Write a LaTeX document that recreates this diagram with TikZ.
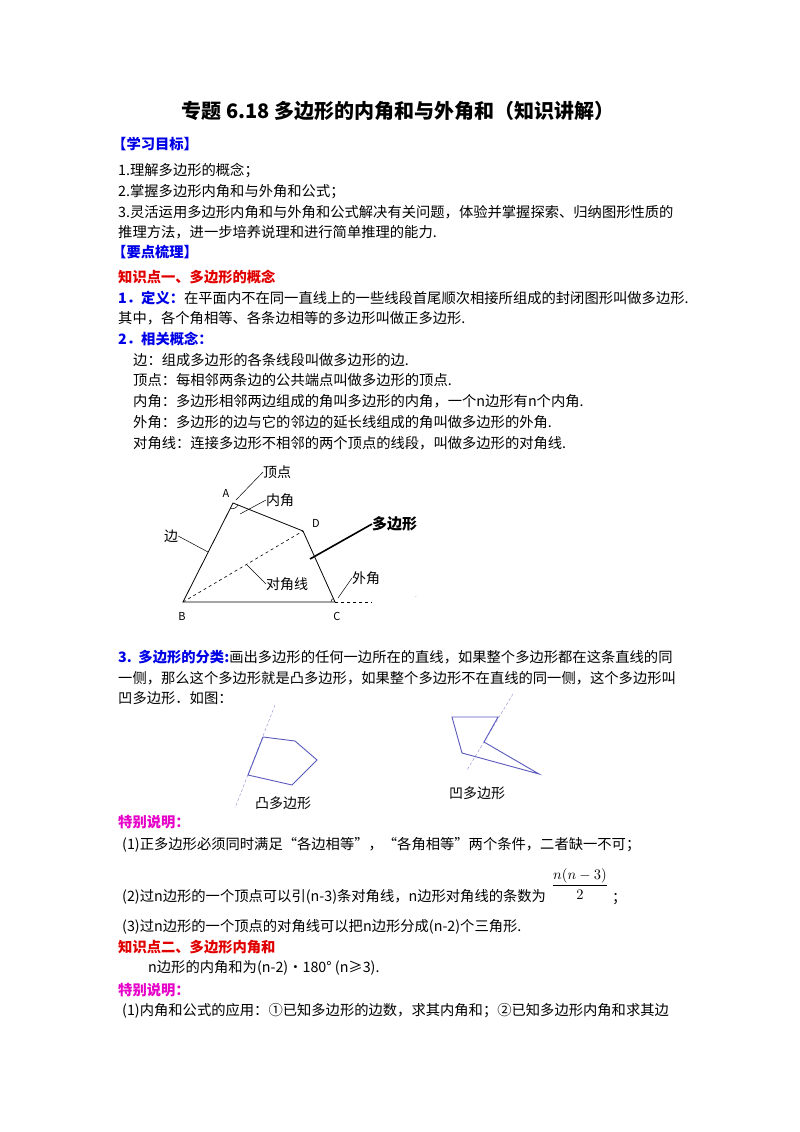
\documentclass[tikz,border=0pt]{standalone}
\usepackage{fontspec}
\setmainfont{Noto Sans CJK SC}
\usetikzlibrary{calc}
\definecolor{kb}{RGB}{0,0,230}
\definecolor{kr}{RGB}{225,0,0}
\definecolor{km}{RGB}{230,0,200}
\definecolor{pb}{RGB}{90,90,190}
\begin{document}
\begin{tikzpicture}[x=1pt,y=-1pt,
 t/.style={anchor=west,inner sep=0pt,font=\fontsize{14.3}{16}\selectfont},
 hb/.style={t,text=kb,font=\fontsize{14.3}{16}\selectfont\bfseries},
 hr/.style={t,text=kr,font=\fontsize{14.3}{16}\selectfont\bfseries},
 hm/.style={t,text=km,font=\fontsize{14.3}{16}\selectfont\bfseries},
 lab/.style={inner sep=0pt,font=\fontsize{14}{16}\selectfont},
 poly/.style={draw=pb,line width=0.9pt},
 aux/.style={draw=pb!60,densely dashed,line width=0.5pt}]
\useasboundingbox (0,0) rectangle (800,1132);
\fill[white] (0,0) rectangle (800,1132);
\node[inner sep=0pt,font=\fontsize{20}{22}\selectfont\bfseries] (title) at (398,111) {专题\ 6.18\ 多边形的内角和与外角和（知识讲解）};
\node[hb] (h1) at (112,144) {【学习目标】};
\node[t] (l1) at (118,171) {1.理解多边形的概念；};
\node[t] (l2) at (118,192) {2.掌握多边形内角和与外角和公式；};
\node[t] (l3) at (118,212) {3.灵活运用多边形内角和与外角和公式解决有关问题，体验并掌握探索、归纳图形性质的};
\node[t] (l4) at (118,232) {推理方法，进一步培养说理和进行简单推理的能力.};
\node[hb] (h2) at (112,252) {【要点梳理】};
\node[hr] (k1) at (118,277) {知识点一、多边形的概念};
\node[t] (d1) at (118,298) {\textcolor{kb}{\bfseries 1．定义：}在平面内不在同一直线上的一些线段首尾顺次相接所组成的封闭图形叫做多边形.};
\node[t] (d2) at (118,318) {其中，各个角相等、各条边相等的多边形叫做正多边形.};
\node[hb] (d3) at (118,339) {2．相关概念：};
\node[t] (c1) at (133,360) {边：组成多边形的各条线段叫做多边形的边.};
\node[t] (c2) at (133,380) {顶点：每相邻两条边的公共端点叫做多边形的顶点.};
\node[t] (c3) at (133,401) {内角：多边形相邻两边组成的角叫多边形的内角，一个n边形有n个内角.};
\node[t] (c4) at (133,422) {外角：多边形的边与它的邻边的延长线组成的角叫做多边形的外角.};
\node[t] (c5) at (133,443) {对角线：连接多边形不相邻的两个顶点的线段，叫做多边形的对角线.};
% figure 1
\coordinate (A) at (233,503); \coordinate (D) at (303,531);
\coordinate (C) at (335,602); \coordinate (B) at (183,602);
\coordinate (E) at (372,602);
\draw[line width=0.8pt] (A)--(D)--(C)--(B)--cycle;
\draw[line width=0.6pt,dashed] (B)--(D);
\draw[line width=0.6pt,dashed] (C)--(E);
\draw[line width=0.5pt] ($(A)!6pt!(B)$) arc[start angle=-110,end angle=-20,radius=6pt];
\draw[line width=0.5pt] (C) ++(180:4pt) arc[start angle=180,end angle=115,radius=4pt];
\node[lab,font=\fontsize{11}{12}\selectfont] (la) at (226,493) {A};
\node[lab,font=\fontsize{11}{12}\selectfont] (ld) at (316,523) {D};
\node[lab,font=\fontsize{11}{12}\selectfont] (lb) at (182,616) {B};
\node[lab,font=\fontsize{11}{12}\selectfont] (lc) at (337,616) {C};
\node[lab,anchor=west] (dd) at (263,472) {顶点};
\node[lab,anchor=west] (nj) at (266,500) {内角};
\node[lab,anchor=west,font=\fontsize{15}{16}\selectfont\bfseries] (dbx) at (372,524) {多边形};
\node[lab] (bian) at (171,536) {边};
\node[lab,anchor=west] (djx) at (266,584) {对角线};
\node[lab,anchor=west] (wj) at (352,578) {外角};
\coordinate (p1) at (236,500); \coordinate (p2) at (240,514);
\coordinate (p3) at (310,559); \coordinate (p4) at (208,552);
\coordinate (p5) at (247,565); \coordinate (p6) at (338,598);
\draw[line width=0.5pt] (p1)--(dd.west);
\draw[line width=0.5pt] (p2)--(nj.west);
\draw[line width=1.6pt] (p3)--(dbx.west);
\draw[line width=0.5pt] (bian.east)--(p4);
\draw[line width=0.5pt] (p5)--(djx.west);
\draw[line width=0.5pt] (p6)--(wj.west);
\node[lab,font=\tiny] (dot) at (416,597) {.};
% section 3
\node[t] (s1) at (118,657) {\textcolor{kb}{\bfseries 3.\ \ 多边形的分类:}画出多边形的任何一边所在的直线，如果整个多边形都在这条直线的同};
\node[t] (s2) at (118,678) {一侧，那么这个多边形就是凸多边形，如果整个多边形不在直线的同一侧，这个多边形叫};
\node[t] (s3) at (118,698) {凹多边形．如图：};
\draw[aux] (275,705)--(235,808);
\draw[poly] (263,737)--(295,741)--(317,760)--(292,785)--(248,775)--cycle;
\node[lab,anchor=west] (tu) at (255,803) {凸多边形};
\draw[aux] (513,694)--(467,770);
\draw[poly] (452,717)--(498,717)--(484,742)--(539,774)--(462,753)--cycle;
\node[lab,anchor=west] (ao) at (449,793) {凹多边形};
% notes
\node[hm] (n0) at (118,822) {特别说明：};
\node[t] (n1) at (122,845) {(1)正多边形必须同时满足“各边相等”，“各角相等”两个条件，二者缺一不可；};
\node[inner sep=0pt,scale=1.45] (fr) at (580,884) {$\displaystyle\frac{n(n-3)}{2}$};
\node[t] (n2) at (122,897) {(2)过n边形的一个顶点可以引(n-3)条对角线，n边形对角线的条数为};
\node[t] (n2b) at (612,899) {；};
\node[t] (n3) at (122,927) {(3)过n边形的一个顶点的对角线可以把n边形分成(n-2)个三角形.};
\node[hr] (k2) at (118,947) {知识点二、多边形内角和};
\node[t] (m1) at (148,968) {n边形的内角和为(n-2)·180°\ (n≥3).};
\node[hm] (n4) at (118,990) {特别说明：};
\node[t] (m2) at (122,1011) {(1)内角和公式的应用：①已知多边形的边数，求其内角和；②已知多边形内角和求其边};
\end{tikzpicture}
\end{document}
